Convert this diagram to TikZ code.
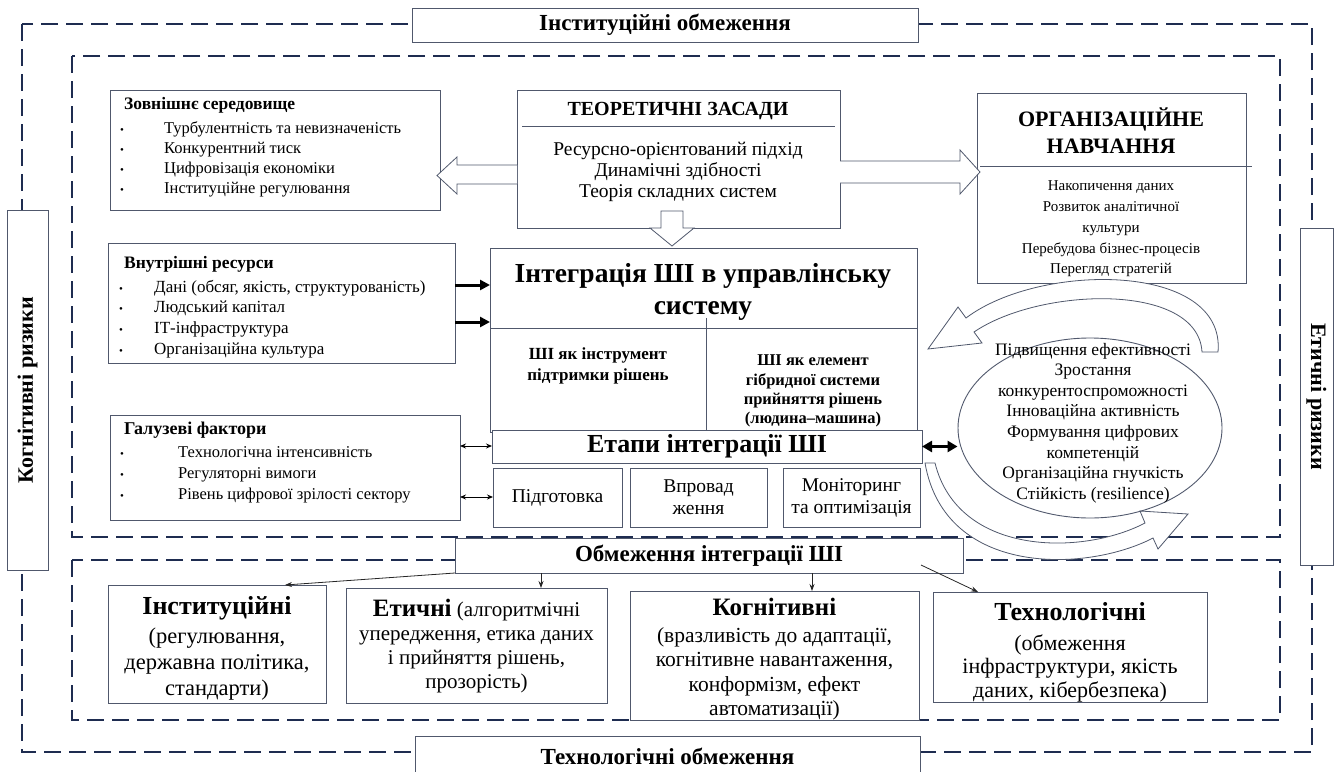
\documentclass[tikz,border=0pt]{standalone}
\usepackage{fontspec}
\setmainfont{Liberation Serif}
\usetikzlibrary{arrows.meta,calc,shapes.geometric}
\definecolor{navy}{RGB}{30,44,80}
\definecolor{boxc}{RGB}{80,88,108}
\newcommand\bulw[1]{\makebox[#1][l]{\fontsize{11}{11}\selectfont\textbullet}}
\newcommand\rbox[5]{\node[box,anchor=north west,minimum width={#4-#2},minimum height={#5-#3}] (#1) at (#2,#3) {};}
\tikzset{
  box/.style={draw=boxc, line width=0.9pt, fill=white, inner sep=0pt, outer sep=0pt},
  dashbox/.style={draw=navy, line width=2.8pt, dash pattern=on 17pt off 8pt},
  txt/.style={inner sep=0pt, align=center},
  harrow/.style={draw=boxc, line width=0.8pt, fill=white, line join=miter},
  blk/.style={line width=3pt, -{Triangle[length=10pt,width=10pt]}},
  dblk/.style={line width=3pt, {Triangle[length=10pt,width=11pt]}-{Triangle[length=10pt,width=11pt]}},
  thin2/.style={line width=0.9pt, {Stealth[length=6pt,width=5pt]}-{Stealth[length=6pt,width=5pt]}},
  conn/.style={draw=black!85, line width=0.8pt, -{Stealth[length=7pt,width=5pt]}}
}
\begin{document}
\begin{tikzpicture}[x=1pt,y=-1pt]
\useasboundingbox (0,0) rectangle (1335,771);
% dashed frames
\draw[dashbox] (22,24) rectangle (1312,752);
\draw[dashbox] (72,56) rectangle (1280,537);
\draw[dashbox] (72,560) rectangle (1280,720);
% frame labels
\node[box, minimum width=506, minimum height=34, font=\bfseries\fontsize{23}{26}\selectfont] (tinst) at (665,25) {Інституційні обмеження};
\node[box, minimum width=505, minimum height=40, font=\bfseries\fontsize{23}{26}\selectfont] (ttech) at (667.5,756) {Технологічні обмеження};
\node[box, rotate=90, minimum width=360, minimum height=41, font=\bfseries\fontsize{22}{24}\selectfont] (kogr) at (27.5,390) {Когнітивні ризики};
\node[box, rotate=-90, minimum width=337, minimum height=33, font=\bfseries\fontsize{22}{24}\selectfont] (etr) at (1316.5,396.5) {Етичні ризики};

% external environment
\rbox{zov}{110}{90}{440}{210}
\node[txt, anchor=north west, align=left, font=\fontsize{16.5}{20}\selectfont] at (120,97)
 {\hspace{4pt}{\bfseries\fontsize{17.5}{20}\selectfont Зовнішнє середовище}\\[4pt]
  \bulw{44pt}Турбулентність та невизначеність\\
  \bulw{44pt}Конкурентний тиск\\
  \bulw{44pt}Цифровізація економіки\\
  \bulw{44pt}Інституційне регулювання};

% theory
\rbox{teo}{517}{90}{840}{228}
\node[txt, font=\bfseries\fontsize{20}{22}\selectfont] at (678,111) {ТЕОРЕТИЧНІ ЗАСАДИ};
\draw[boxc, line width=0.9pt] (522,126) -- (835,126);
\node[txt, font=\fontsize{19.5}{21}\selectfont] at (678,172) {Ресурсно-орієнтований підхід\\Динамічні здібності\\Теорія складних систем};

% organisational learning
\rbox{org}{977}{93}{1246}{283}
\node[txt, font=\bfseries\fontsize{22}{27}\selectfont] at (1111,131) {ОРГАНІЗАЦІЙНЕ\\НАВЧАННЯ};
\draw[boxc, line width=0.9pt] (980,166) -- (1252,166);
\node[txt, font=\fontsize{15}{20.8}\selectfont] at (1111,229) {Накопичення даних\\Розвиток аналітичної\\культури\\Перебудова бізнес-процесів\\Перегляд стратегій};

% hollow arrows from theory
\draw[harrow] (517,165) -- (457,165) -- (457,157) -- (437,175.5) -- (457,194) -- (457,184) -- (517,184);
\draw[harrow] (840,161) -- (960,161) -- (960,150) -- (980,172) -- (960,194) -- (960,183) -- (840,183);
\draw[harrow] (661,211) -- (661,228) -- (650,228) -- (672,246) -- (694,228) -- (683,228) -- (683,211) -- cycle;

% internal resources
\rbox{vnr}{108}{243}{455}{363}
\node[txt, anchor=north west, align=left, font=\fontsize{17}{20.7}\selectfont] at (119,256)
 {\hspace{5pt}{\bfseries\fontsize{17.5}{20}\selectfont Внутрішні ресурси}\\[3pt]
  \bulw{35pt}Дані (обсяг, якість, структурованість)\\
  \bulw{35pt}Людський капітал\\
  \bulw{35pt}ІТ-інфраструктура\\
  \bulw{35pt}Організаційна культура};

% integration
\rbox{integ}{490}{248}{917}{432}
\node[txt, font=\bfseries\fontsize{27.5}{32}\selectfont] at (703,292) {Інтеграція ШІ в управлінську\\систему};
\draw[boxc, line width=0.9pt] (490,328) -- (917,328);
\draw[boxc, line width=0.9pt] (706,318) -- (706,432);
\node[txt, font=\bfseries\fontsize{17}{21}\selectfont] at (598,366) {ШІ як інструмент\\підтримки рішень};
\node[txt, font=\bfseries\fontsize{16.5}{19.3}\selectfont] at (813,391) {ШІ як елемент\\гібридної системи\\прийняття рішень\\(людина–машина)};

\rbox{etapy}{492}{430}{922}{463}
\node[txt, font=\bfseries\fontsize{26}{28}\selectfont] at (707,446.5) {Етапи інтеграції ШІ};
\rbox{pidg}{493}{468}{622}{527}
\rbox{vpr}{630}{468}{767}{527}
\rbox{mon}{783}{468}{920}{527}
\node[txt, font=\fontsize{19.5}{22}\selectfont] at (pidg.center) {Підготовка};
\node[txt, font=\fontsize{19.5}{22}\selectfont] at (vpr.center) {Впровад\\ження};
\node[txt, font=\fontsize{19.5}{22}\selectfont] at (mon.center) {Моніторинг\\та оптимізація};

% industry factors
\rbox{gal}{110}{415}{460}{520}
\node[txt, anchor=north west, align=left, font=\fontsize{16.5}{21}\selectfont] at (120,422)
 {\hspace{4pt}{\bfseries\fontsize{18}{20}\selectfont Галузеві фактори}\\[2pt]
  \bulw{58pt}Технологічна інтенсивність\\
  \bulw{58pt}Регуляторні вимоги\\
  \bulw{58pt}Рівень цифрової зрілості сектору};

% arrows into integration
\draw[blk] (vnr.east |- 0,285) -- (integ.west |- 0,285);
\draw[blk] (vnr.east |- 0,322) -- (integ.west |- 0,322);
\draw[thin2] (gal.east |- 0,446) -- (etapy.west |- 0,446);
\draw[thin2] (gal.east |- 0,497) -- (pidg.west |- 0,497);

% curved block arrows
\draw[harrow] (1218,352) .. controls (1226,262) and (1040,262) .. (966,318)
  -- (958,307) -- (928,349) -- (982,343) -- (974,332)
  .. controls (1040,287) and (1198,282) .. (1202,352) -- cycle;
\draw[harrow] (925,463) .. controls (945,578) and (1088,572) .. (1153,538)
  -- (1158,549) -- (1188,514) -- (1140,511) -- (1145,523)
  .. controls (1082,556) and (958,556) .. (935,463) -- cycle;

% effects ellipse
\node[draw=boxc, line width=0.9pt, ellipse, minimum width=264, minimum height=180, inner sep=0pt] (eff) at (1090,428) {};
\node[txt, font=\fontsize{17.5}{20.6}\selectfont] at (1093,423) {Підвищення ефективності\\Зростання\\конкурентоспроможності\\Інноваційна активність\\Формування цифрових\\компетенцій\\Організаційна гнучкість\\Стійкість (resilience)};
\draw[dblk] (etapy.east) -- (eff.west |- etapy.east);

% constraints
\node[box, minimum width=508, minimum height=35, font=\bfseries\fontsize{23}{26}\selectfont] (obm) at (709,555.5) {Обмеження інтеграції ШІ};
\rbox{binst}{108}{585}{326}{703}
\rbox{bet}{346}{588}{607}{703}
\rbox{bkog}{630}{591}{919}{720}
\rbox{btech}{933}{592}{1207}{702}
\node[txt, font=\fontsize{22.5}{26}\selectfont] at (217,648) {{\bfseries\fontsize{26}{26}\selectfont Інституційні}\\[3pt](регулювання,\\державна політика,\\стандарти)};
\node[txt, font=\fontsize{21}{24}\selectfont] at (476.5,646) {{\bfseries\fontsize{25}{24}\selectfont Етичні} (алгоритмічні\\упередження, етика даних\\і прийняття рішень,\\прозорість)};
\node[txt, font=\fontsize{21.5}{24.2}\selectfont] at (774.5,659) {{\bfseries\fontsize{25}{24}\selectfont Когнітивні}\\[3pt](вразливість до адаптації,\\когнітивне навантаження,\\конформізм, ефект\\автоматизації)};
\node[txt, font=\fontsize{22}{23.3}\selectfont] at (1070,652) {{\bfseries\fontsize{26}{24}\selectfont Технологічні}\\[7pt](обмеження\\інфраструктури, якість\\даних, кібербезпека)};
\draw[conn] (obm.south west) -- (binst.north -| 285,0);
\draw[conn] (obm.south -| 541,0) -- (bet.north -| 541,0);
\draw[conn] (obm.south -| 812,0) -- (bkog.north -| 812,0);
\draw[conn] ($(obm.south east)+(-42,-8)$) -- (btech.north -| 978,0);
\end{tikzpicture}
\end{document}
